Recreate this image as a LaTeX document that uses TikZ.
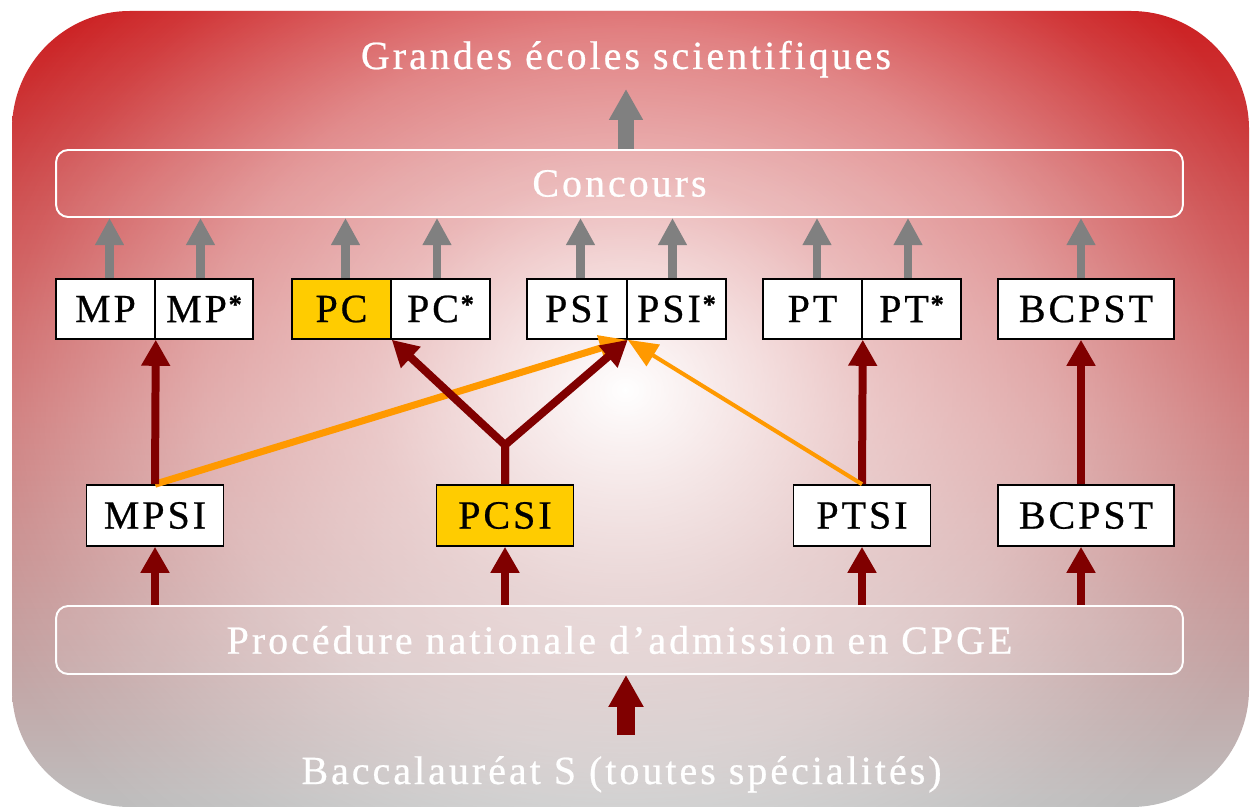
\documentclass[tikz,border=0pt]{standalone}
\usepackage{fontspec}
\setmainfont{Liberation Serif}[LetterSpace=7.5, FakeBold=0.6]
\usetikzlibrary{arrows.meta,fadings,calc}
\definecolor{bgtop}{RGB}{204,32,34}
\definecolor{bgmid}{RGB}{205,115,115}
\definecolor{bgbot}{RGB}{190,190,190}
\definecolor{arrgray}{RGB}{128,128,128}
\definecolor{darkred}{RGB}{128,0,0}
\definecolor{orng}{RGB}{255,153,0}
\definecolor{pcyellow}{RGB}{255,204,0}
\pgfdeclareradialshading{whiteshade}{\pgfpointorigin}{color(0bp)=(white); color(18bp)=(white!60!black); color(30bp)=(white!42!black); color(44bp)=(white!10!black); color(50bp)=(black)}
\pgfdeclarefading{whitefade}{\pgfuseshading{whiteshade}}
\newcommand{\sstar}{\hspace{1pt}{\fontsize{15pt}{15pt}\selectfont\bfseries\raisebox{0.75ex}{*}}}
\tikzset{
  every node/.style={font=\fontsize{22.75pt}{26pt}\selectfont},
  wtext/.style={text=white, inner sep=0pt},
  cbox/.style={draw=black, line width=0.9pt, fill=white, minimum height=1.2cm, inner sep=0pt, text=black},
  rbox/.style={draw=white, line width=1.1pt, fill=white, fill opacity=0.08, text opacity=1, text=white, rounded corners=0.24cm, minimum width=22.54cm, inner sep=0pt},
  garrow/.style={draw=arrgray, line width=5.1pt, -{Triangle[width=15.4pt,length=15.4pt]}},
  biggarrow/.style={draw=arrgray, line width=8.9pt, -{Triangle[width=18.2pt,length=17.6pt]}},
  rarrow/.style={draw=darkred, line width=4.55pt, line join=round, -{Triangle[width=15.6pt,length=14.8pt]}},
  bigrarrow/.style={draw=darkred, line width=9.7pt, -{Triangle[width=18.8pt,length=18.2pt]}},
  oarrow/.style={draw=orng, line width=4pt, -{Triangle[width=14pt,length=16pt]}},
  othin/.style={draw=orng, line width=2.3pt, -{Triangle[width=14pt,length=17pt]}},
}
\begin{document}
\begin{tikzpicture}[x=0.02cm, y=-0.02cm]
\useasboundingbox (0,0) rectangle (1250,807);
% background
\shade[top color=bgtop, bottom color=bgbot, middle color=bgmid, rounded corners=2.36cm] (12,11) rectangle (1249,807);
\fill[white, path fading=whitefade, fit fading=false, fading transform={shift={(625,390)}, xscale=7.94, yscale=6.8}, rounded corners=2.36cm] (12,11) rectangle (1249,807);
% texts
\node[wtext, anchor=base] (title) at (626,69) {Grandes écoles scientifiques};
\node[rbox, minimum height=1.34cm] (concours) at (619.5,183.5) {Concours};
\node[rbox, minimum height=1.36cm] (proc) at (619.5,640) {Procédure nationale d’admission en CPGE};
\node[wtext, anchor=base] (bac) at (621.5,784) {Baccalauréat S (toutes spécialités)};
% top boxes
\node[cbox, minimum width=1.98cm] (mp) at (105.5,309) {MP};
\node[cbox, minimum width=1.96cm] (mps) at (204,309) {MP\sstar};
\node[cbox, minimum width=1.98cm, fill=pcyellow] (pc) at (341.5,309) {PC};
\node[cbox, minimum width=1.98cm] (pcs) at (440.5,309) {PC\sstar};
\node[cbox, minimum width=2cm] (psi) at (577,309) {PSI};
\node[cbox, minimum width=1.98cm] (psis) at (676.5,309) {PSI\sstar};
\node[cbox, minimum width=1.98cm] (pt) at (812.5,309) {PT};
\node[cbox, minimum width=1.98cm] (pts) at (911.5,309) {PT\sstar};
\node[cbox, minimum width=3.52cm] (bcpst) at (1086,309) {BCPST};
% second row
\node[cbox, minimum width=2.74cm, minimum height=1.22cm] (mpsi) at (155,515.5) {MPSI};
\node[cbox, minimum width=2.74cm, minimum height=1.22cm, fill=pcyellow] (pcsi) at (505,515.5) {PCSI};
\node[cbox, minimum width=2.74cm, minimum height=1.22cm] (ptsi) at (862,515.5) {PTSI};
\node[cbox, minimum width=3.52cm, minimum height=1.22cm] (bcpstb) at (1086,515.5) {BCPST};
% grey arrows
\foreach \n/\dx in {mp/4,mps/-3.5,pc/4,pcs/-3.5,psi/3.5,psis/-4,pt/4.5,pts/-3.5,bcpst/-5}
  \draw[garrow] ($(\n.north)+(\dx,0)$) -- ($(\n.north |- concours.south)+(\dx,0)$);
\coordinate (gt) at (626,89);
\draw[biggarrow] (gt |- concours.north) -- (gt);
% from procedure
\foreach \n/\dx in {mpsi/0,pcsi/0,ptsi/0,bcpstb/-5}
  \draw[rarrow] ($(\n.south |- proc.north)+(\dx,0)$) -- ($(\n.south)+(\dx,0)$);
\coordinate (bacfoot) at (626,735);
\draw[bigrarrow] (bacfoot) -- (bacfoot |- proc.south);
% orange and red
\draw[oarrow] (mpsi.north) -- (psi.south east);
\coordinate (pcsj) at (505,445);
\draw[rarrow] (mpsi.north) -- (mp.south east);
\draw[rarrow] (pcsi.north) -- (pcsj) -- (pc.south east);
\draw[rarrow] (pcsi.north) -- (pcsj) -- (psi.south east);
\draw[rarrow] (ptsi.north) -- (pt.south east);
\draw[rarrow] ($(bcpstb.north)+(-5,0)$) -- ($(bcpst.south)+(-5,0)$);
\draw[othin] (ptsi.north) -- (psi.south east);
\end{tikzpicture}
\end{document}
